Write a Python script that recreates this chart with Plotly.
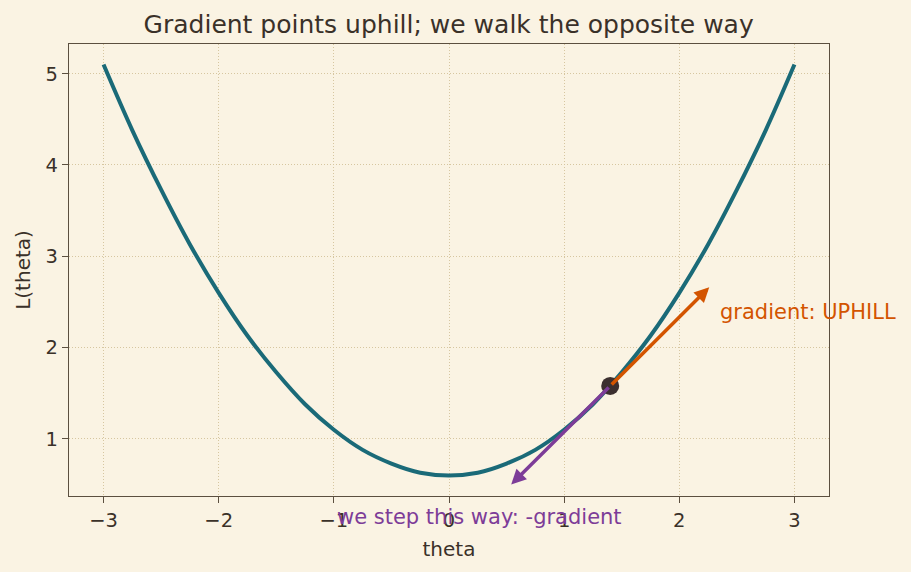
import plotly.graph_objects as go

# Loss curve values
theta = [-3.0, -2.75, -2.5, -2.25, -2.0, -1.75, -1.5, -1.25, -1.0, -0.75, -0.5, -0.25,
         0.0, 0.25, 0.5, 0.75, 1.0, 1.25, 1.5, 1.75, 2.0, 2.25, 2.5, 2.75, 3.0]
loss = [5.10, 4.38, 3.73, 3.13, 2.60, 2.13, 1.73, 1.38, 1.10, 0.88, 0.73, 0.63,
        0.60, 0.63, 0.73, 0.88, 1.10, 1.38, 1.73, 2.13, 2.60, 3.13, 3.73, 4.38, 5.10]

# Current point and arrow tips
point = (1.4, 1.58)
uphill_tip = (2.26, 2.66)
downhill_tip = (0.54, 0.50)

x_ticks = [-3, -2, -1, 0, 1, 2, 3]
y_ticks = [1, 2, 3, 4, 5]
x_range = [-3.3, 3.3]
y_range = [0.375, 5.325]

BG = "#faf3e3"
INK = "#3a3129"
SPINE = "#5b4f3f"
TEAL = "#1a6a78"
ORANGE = "#d35400"
PURPLE = "#7d3c98"
GRID = "#d6c6a0"
FONT = "DejaVu Sans"

fig = go.Figure()
fig.add_trace(go.Scatter(x=theta, y=loss, mode="lines", line=dict(color=TEAL, width=4, shape="spline"),
                         showlegend=False, hoverinfo="skip"))
fig.add_trace(go.Scatter(x=[point[0]], y=[point[1]], mode="markers",
                         marker=dict(color="#3b2f2f", size=18), showlegend=False))

fig.add_annotation(x=uphill_tip[0], y=uphill_tip[1], ax=point[0], ay=point[1],
                   xref="x", yref="y", axref="x", ayref="y", text="", showarrow=True,
                   arrowhead=2, arrowsize=0.85, arrowwidth=3.5, arrowcolor=ORANGE)
fig.add_annotation(x=downhill_tip[0], y=downhill_tip[1], ax=point[0], ay=point[1],
                   xref="x", yref="y", axref="x", ayref="y", text="", showarrow=True,
                   arrowhead=2, arrowsize=0.85, arrowwidth=3.5, arrowcolor=PURPLE)

fig.add_annotation(x=2.34, y=2.39, xref="x", yref="y", text="gradient: UPHILL", showarrow=False,
                   xanchor="left", yanchor="middle", font=dict(family=FONT, size=21, color=ORANGE))
# text sits below the axes at data y = 0.15 -> convert to paper coordinates
purple_y = (0.15 - y_range[0]) / (y_range[1] - y_range[0])
fig.add_annotation(x=-0.99, y=purple_y, xref="x", yref="paper", text="we step this way: -gradient",
                   showarrow=False, xanchor="left", yanchor="middle",
                   font=dict(family=FONT, size=21, color=PURPLE))

axis_common = dict(showline=True, linecolor=SPINE, linewidth=1.3, mirror=True,
                   ticks="outside", ticklen=6, tickwidth=1.3, tickcolor=SPINE,
                   showgrid=True, gridcolor=GRID, griddash="1px,2px", gridwidth=1.2,
                   zeroline=False, tickfont=dict(family=FONT, size=19.5, color=INK))

fig.update_xaxes(range=x_range, tickvals=x_ticks, ticktext=[str(v).replace("-", "\u2212") for v in x_ticks],
                 title=dict(text="theta", font=dict(family=FONT, size=20, color=INK), standoff=11),
                 **axis_common)
fig.update_yaxes(range=y_range, tickvals=y_ticks,
                 title=dict(text="L(theta)", font=dict(family=FONT, size=20, color=INK), standoff=9),
                 **axis_common)

fig.update_layout(
    width=911, height=572,
    paper_bgcolor=BG, plot_bgcolor=BG,
    margin=dict(l=69, r=82, t=44, b=76),
    title=dict(text="Gradient points uphill; we walk the opposite way", x=0.4925, xanchor="center",
               y=1 - 24 / 572, yanchor="middle", yref="container",
               font=dict(family=FONT, size=25, color=INK)),
    font=dict(family=FONT, color=INK),
)

fig.write_html("out.html")
